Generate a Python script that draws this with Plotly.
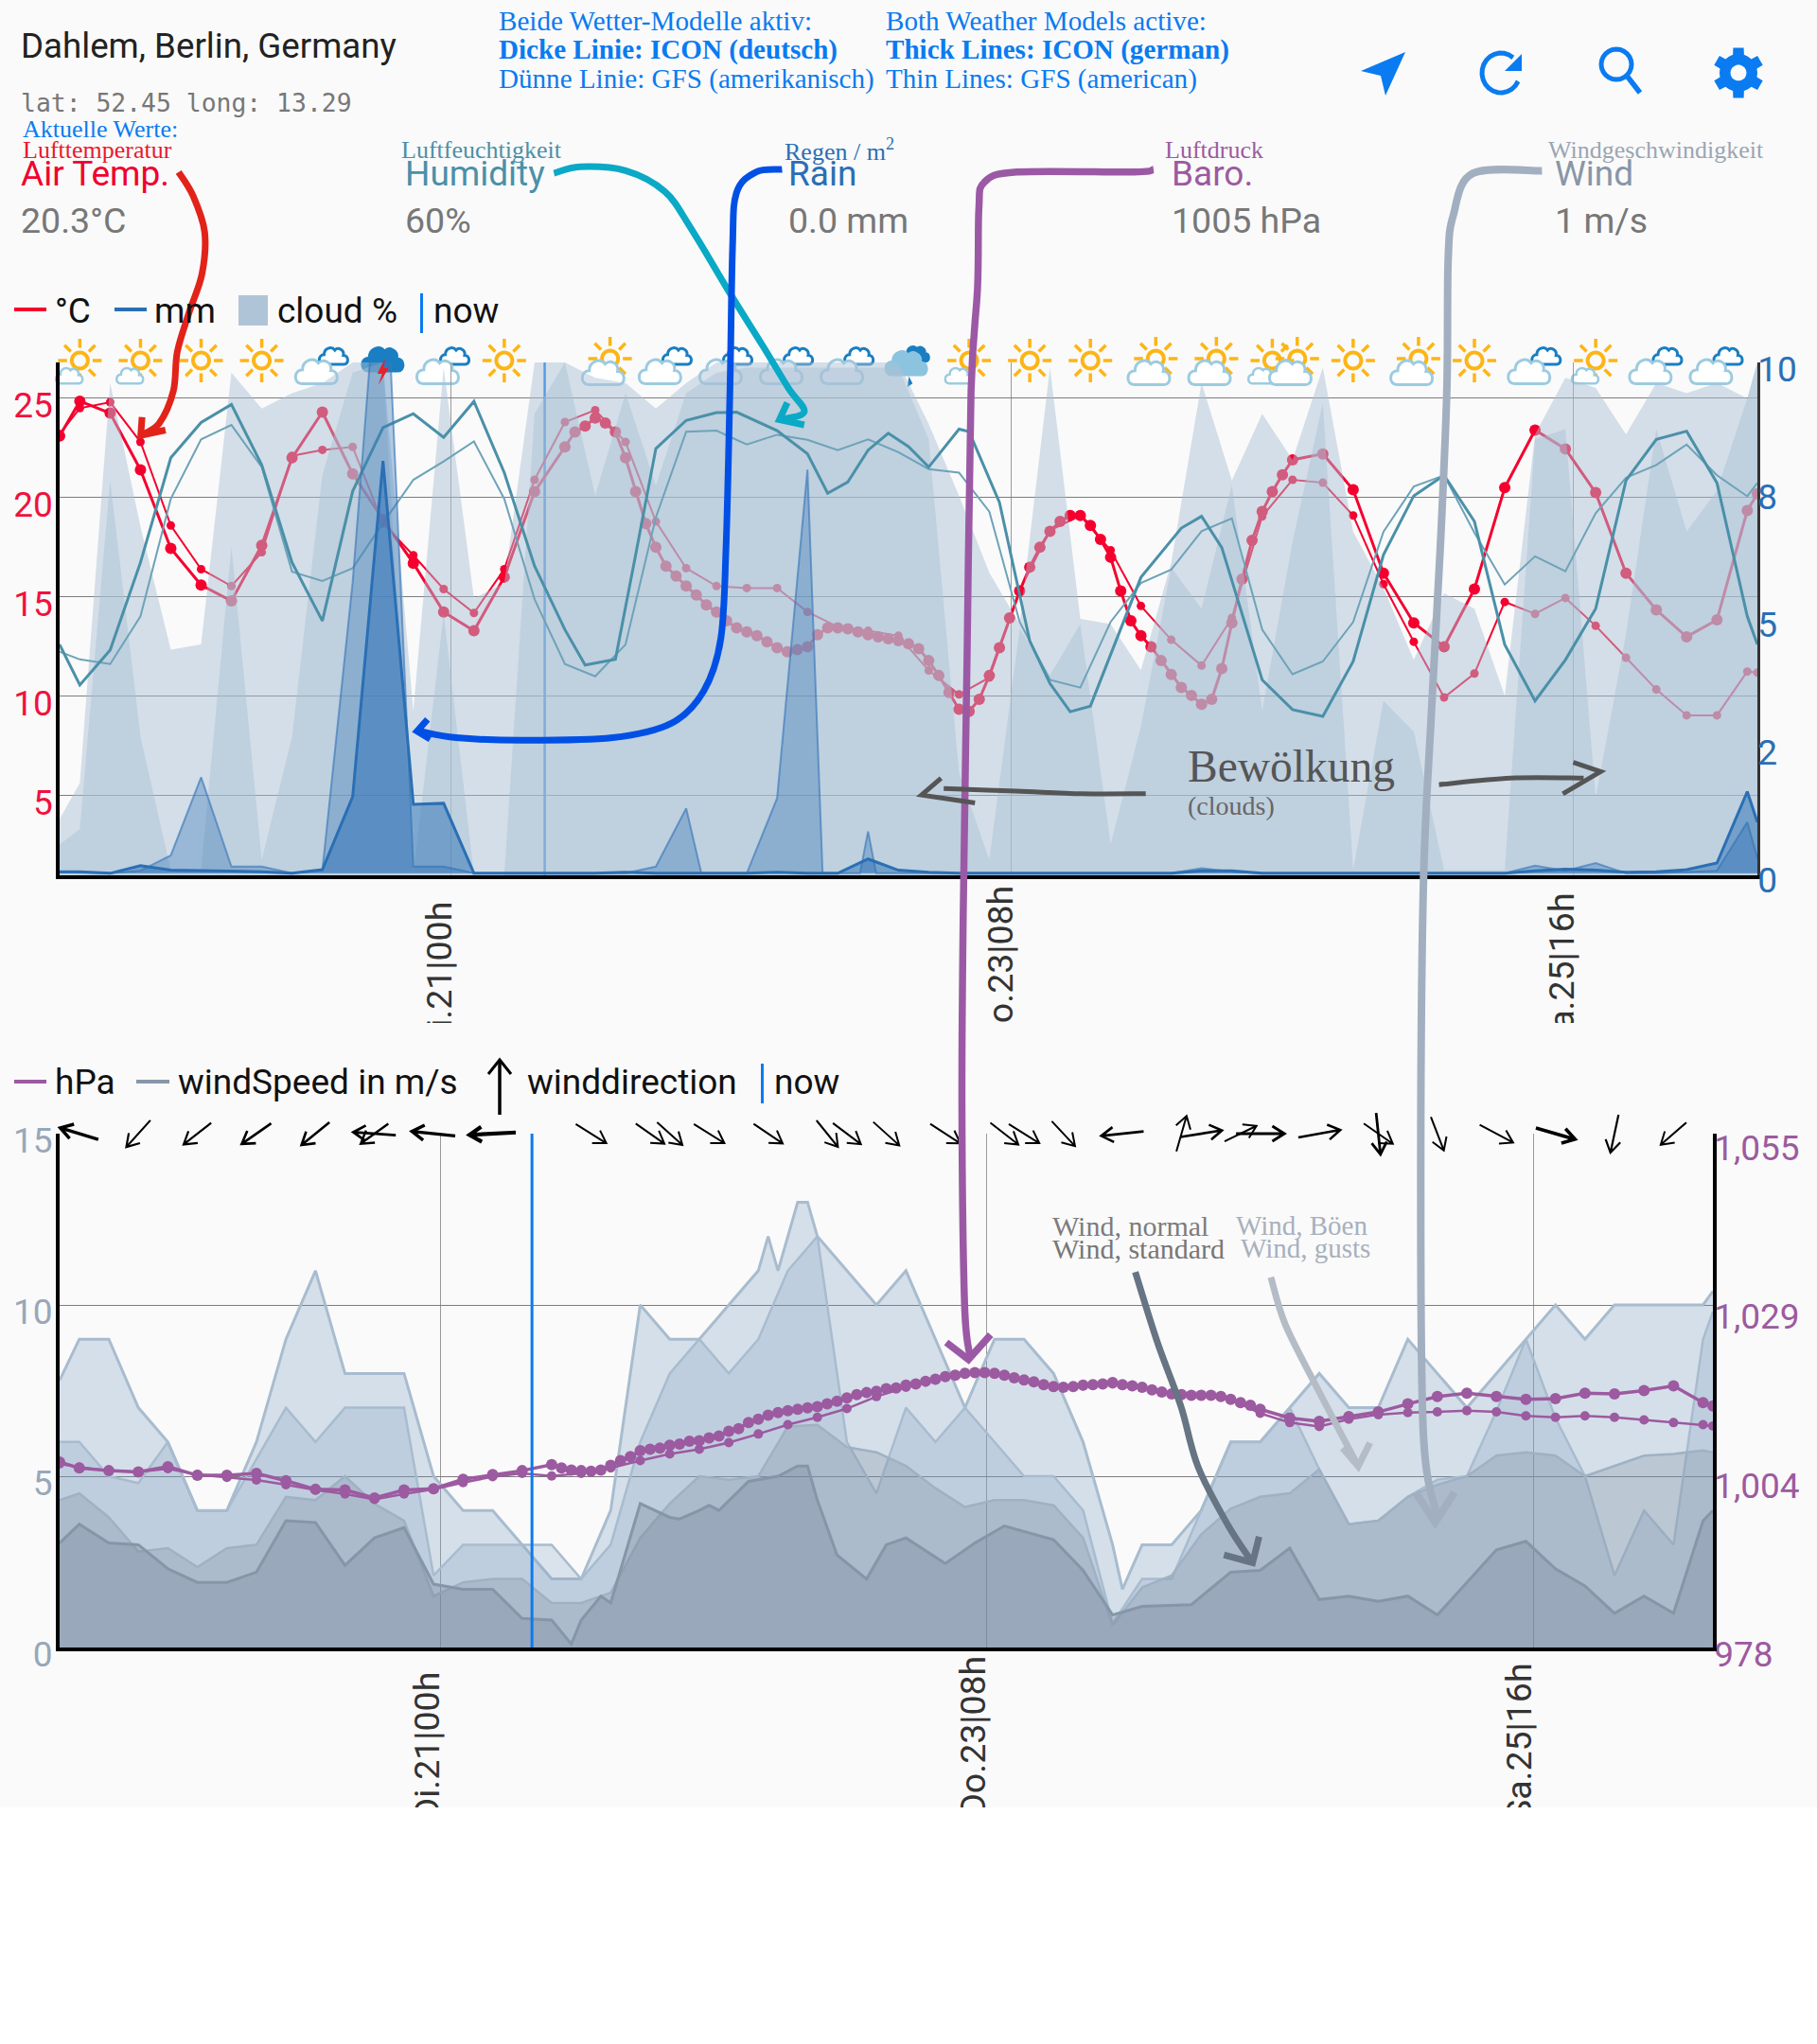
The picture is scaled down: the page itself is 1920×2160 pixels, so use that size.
import math
import plotly.graph_objects as go

W, H = 1920, 2160

# ---------- data ----------
H3 = [0] + list(range(2, 168, 3)) + [168]
H_MIXED = [0] + list(range(2, 51, 3)) + list(range(51, 123)) + list(range(125, 168, 3)) + [168]

TEMP_ICON = [23.1,24.85,24.25,21.4,17.45,15.6,14.8,17.6,22.0,24.3,21.2,18.9,16.7,14.25,13.3,16,20.3,22.55,
 23.3,23.6,24.0,23.75,23.3,22.0,20.3,18.7,17.5,16.55,16.05,15.55,15.1,14.6,14.25,13.8,13.45,13.25,13.05,12.75,12.45,12.25,12.35,12.5,13.1,13.45,13.45,13.4,13.25,13.1,13.0,12.9,12.8,12.65,
 12.4,11.8,11.05,10.2,9.35,9.25,9.85,11.05,12.45,13.95,15.3,16.5,17.5,18.3,18.8,19.1,19.1,18.6,17.9,17.0,15.3,13.8,13.05,12.5,11.8,11.1,10.45,10.05,9.6,9.85,11.4,13.7,15.9,17.85,19.3,20.3,21.15,21.9,
 22.2,20.4,16.2,13.7,12.5,15.4,20.5,23.4,22.45,20.25,16.2,14.35,13.0,13.85,19.35,20.2]
TEMP_GFS = [23.2,24.5,24.8,22.8,18.6,16.4,15.55,17.25,22.1,22.4,22.55,18.7,17.1,15.4,14.2,16.4,20.9,23.8,24.4,22.8,18.8,16.45,15.55,15.45,15.45,14.25,13.5,13.3,13.05,11.3,10.1,10.95,15.35,18.35,19.1,17.35,14.55,12.85,11.55,13.95,19.05,20.9,20.75,19.1,15.65,12.75,9.95,11.15,14.75,14.15,14.95,13.55,11.95,10.35,9.05,9.05,11.25,11.2]

HUM_ICON_H = [0,2,5,8,11,14,17,20,23,26,29,32,35,38,41,44,47,50,52,55,57,59,62,65,67,71,74,76,78,80,82,84,86,89,90,93,96,98,100,102,107,111,113,115,119,122,125,128,131,134,137,140,143,146,149,152,155,158,161,164,167,168]
HUM_ICON = [45,37.1,43.9,61,81.4,88.3,91.8,80,61,49.6,74.9,87.3,90,85.4,92.4,78.5,60.3,47.9,41,42.1,62.5,83.2,88.7,90.2,90.3,86.7,82.2,74.5,76.7,82.9,86.2,83.6,79.6,87,86.5,72.7,45.7,37.4,31.9,33,58.1,67.7,70,63.9,38.1,32.3,31,41.7,62.5,74,78,69,45,34,42,52,77,85,86.6,76.5,50.5,45]
HUM_GFS = [43.6,42.1,41.2,50.5,73.4,85,87.8,79.6,59.2,57.4,59.9,68.7,77.1,80.7,84.6,73.4,53.8,41.2,38.8,45,69.8,86.5,86.7,84,85.9,84.9,82.9,85,82.5,79.2,78.5,70.9,49.4,38.1,36.6,49.4,57,59.6,67.1,69.6,47.9,39.2,41.7,49.4,67,75.8,78,66.8,56.7,62.2,59.3,70.6,77.5,80,84,78,73.9,76.5]

CLOUD_A = [11,18,96,68,44,45,98,91,94,96,100,100,32,99,54,57,100,100,97,96,91,96,100,100,100,100,100,100,100,88,74,59,49,99,50,49,40,61,96,77,90,81,99,67,56,42,55,52,35,86,97,95,86,96,94,96,93,100]
CLOUD_B = [6,9,77,27,1,1,64,3,27,78,98,100,0,51,0,0,90,100,74,94,76,94,98,99,99,99,99,99,99,85,20,3,48,39,49,6,29,60,52,76,32,65,92,1,34,28,1,1,1,85,87,15,47,87,67,75,93,100]

RAIN_ICON = [.03,.03,0,.15,.06,.05,.03,.03,0,.07,1.5,8.07,1.35,1.37,0,0,0,0,0,.02,0,0,0,0,.02,0,0,.28,.06,.02,0,0,0,0,0,0,0,0,.05,.05,0,0,0,0,0,0,0,0,0,.05,.08,.06,.02,.03,.07,.2,1.6,1.0]
RAIN_GFS_H = [0,2,5,8,11,14,17,20,23,26,29,32,35,38,41,44,47,50,53,56,59,62,63.5,68,71,74,75.5,79.2,80,80.8,86,89,92,95,98,101,104,107,110,113,116,119,122,125,128,131,134,137,140,143,146,149,152,155,158,161,164,167,168]
RAIN_GFS = [.02,.01,0,.05,.35,1.88,.13,.13,0,.06,5.7,13.3,.13,.13,0,0,0,0,0,0,.13,1.27,0,0,1.47,7.9,0,0,.82,0,0,0,0,0,0,0,0,0,0,.1,.03,0,0,0,0,0,0,0,0,0,.15,.05,.2,0,0,.02,.05,1.0,.3]

NOW_HOUR = 48
TICK_HOURS = [38.7, 94.2, 149.75]
TICK_LABELS = ["Di.21|00h\u00a0\u2009", "Do.23|08h", "Sa.25|16h\u2009"]

GUST_ICON_H = [0,2,5,8,11,14,17,20,23,26,29,32,35,38,41,44,47,50,53,56,59,62,65,68,71,72,73,75,76,77,80,83,86,89,92,95,98,101,104,107,108,110,113,116,119,122,125,128,131,134,137,140,143,146,149,152,155,158,161,164,167,168]
GUST_ICON = [7.8,9,9,7,6,4,4,6,9,11,8,8,8,5,4,4,3,2,2,4,10,9,9,10,11,12,11,13,13,12,11,10,11,9,7,9,9,8,6,3,1.7,3,3,4,6,6,7,8,7,7,9,8,7,8,9,10,9,10,10,10,10,10.4]
GUST_GFS = [6,6,5,4.8,6,4,4,5.5,7,6,7,7,7,2.1,3,3,3,3,2,3,6,8,9,8,9,11,12,6,4.5,7,6,7,6,5,5,4,.7,2,2,4,6,6,7,5.2,3.6,3.7,4.4,4.9,5,6.9,9,6.7,5,2.1,4,3,9,9.8]
WIND_GFS = [4.3,4.5,3.8,2.8,2.9,2.35,2.9,3,4.4,4.3,5,4.2,3.7,1.5,1.9,2,2,1.3,1.3,1.6,3.2,4.2,5,4.9,5,6.45,6.5,5.85,5.7,5.3,4.65,4.1,4.3,4.3,4.15,3.2,.65,1.75,2.1,3.3,4.05,4.4,4.5,5.2,3.6,3.7,4.4,4.75,5,5.6,5.7,5.6,5,5.3,5.6,5.65,5.75,5.7]
WIND_ICON_H = [0,2,5,8,11,14,17,20,23,26,29,32,35,38,41,44,47,50,52,53,55,56,59,62,63,65,66,67,70,73,75,76,77,79,82,84,86,90,93,96,101,104,107,110,115,119,122,125,128,131,134,137,140,146,149,152,155,158,161,164,167,168]
WIND_ICON = [3.05,3.6,3.05,3,2.3,1.9,1.9,2.2,3.7,3.65,2.4,3.2,3.5,1.85,1.7,1.7,.85,.8,.1,.8,1.5,1.3,4.2,3.8,3.75,4,4.15,4,4.85,5,5.3,5.3,4.3,2.7,2,3,3.2,2.45,3.05,3.55,3.15,2.25,.95,1.2,1.25,2.2,2.25,2.9,1.4,1.5,1.35,1.5,.95,2.85,3.1,2.3,1.8,1,1.5,1,3.7,4]

BARO_ICON = [1005.8,1004.9,1004.5,1004.3,1005.1,1003.8,1003.8,1004.1,1003,1001.7,1001.6,1000.4,1001.6,1001.8,1003.2,1003.9,1004.5,1005.4,
 1004.9,1004.6,1004.5,1004.4,1004.6,1005.3,1006,1006.6,1007.5,1007.7,1007.9,1008.3,1008.5,1008.9,1009,1009.4,1009.7,1010.4,1010.8,1011.7,1012.2,1012.8,1013.2,1013.5,1013.7,1013.9,1014.1,1014.5,1014.9,1015.4,1015.9,1016.2,1016.4,1016.8,1016.9,
 1017.3,1017.5,1017.9,1018.2,1018.6,1018.8,1019.1,1019.2,1019.2,1019.1,1018.8,1018.4,1018.1,1017.8,1017.4,1017.1,1017,1017.1,1017.3,1017.4,1017.5,1017.7,1017.4,1017.2,1017,1016.6,1016.3,1016,1015.9,1015.8,1015.8,1015.8,1015.6,1015.2,1014.7,1014.3,1013.7,
 1012.4,1011.9,1012.6,1013.3,1014.5,1015.6,1016.1,1015.6,1015.2,1015.3,1016.1,1016,1016.5,1017.2,1014.7,1014.2]
BARO_GFS = [1005.5,1005,1004.5,1004.3,1004.8,1003.9,1003.5,1003.1,1002.4,1001.6,1001,1000.2,1001,1001.7,1002.7,1003.6,1004.1,1003.7,1004.1,1004.9,1006,1007,1007.7,1008.7,1010,1011.4,1012.5,1013.8,1015.6,1017,1018.1,1019,1019,1018,1017,1017.2,1017.5,1017,1016,1015.8,1015.2,1013.1,1011.7,1011.1,1012.2,1012.9,1013.2,1013.3,1013.5,1013.3,1012.7,1012.5,1012.7,1012.5,1012.1,1011.7,1011.4,1011.2]
BARO_TICK_POS = [978, 1003.2, 1028.6, 1053.8]
BARO_TICK_TEXT = ["978", "1,004", "1,029", "1,055"]

ARROW_H = [2,8,14,20,26,32,32,38,44,54,60,62,66,72,78,80,84,90,96,98,102,108,114,116,120,122,128,134,134,140,146,152,158,164]
ARROW_DIR = [287,222,232,235,231,234,274,276,267,122,125,132,122,124,141,127,132,123,128,122,137,264,16,81,64,90,80,125,174,159,118,106,192,229]
ARROW_LEN = [42,38,37,38,38,36,45,46,49,38,37,36,38,37,36,37,37,38,37.5,38,36,45,39,44.5,37.5,51,45,37.5,44,38,40,43,41,36]
ARROW_W = [3.5,2.2,2.2,2.6,2.6,2.4,2.8,3.4,4.2,2,2,2,2,2,2,2,2,2,2,2,2,2.6,2,2.6,2,3,2.6,2,2.8,2,2,3.6,2.2,2]

ICON_H = [2,8,14,20,26,32,38,44,54,60,66,72,78,84,90,96,102,108,114,120,122,128,134,140,146,152,158,164]
ICON_KIND = ["sc","sc","s","s","cc","storm","cc","s","cs","cc","cc","cc","cc","rain","sc","s","s","cs","cs","sc","cs","s","cs","s","cc","sc","cc","cc"]

# ---------- layout helpers ----------
X1L, X1R, Y1T, Y1B = 63, 1857, 383, 925
X2L, X2R, Y2T, Y2B = 63, 1810, 1198, 1741
XMAX = 168
DS = 1920 / 1394.0   # the reference's hand-drawn notes were measured at this ratio

BG = "#fafafa"
BLUE = "#0a7bf0"
RED = "#f5002e"
HUMC = "#4a90a8"
RAINC = "#2a6fb5"
BAROC = "#9c5aa0"
WINDC = "#8896a8"
CLOUDFILL = "rgba(169,192,213,0.48)"
WINDFILL1 = "rgba(115,150,190,0.27)"
WINDFILL2 = "rgba(132,164,196,0.27)"
WINDFILL3 = "rgba(121,137,156,0.27)"
WINDFILL4 = "rgba(102,118,138,0.27)"


def pt(x, y):
    return f"{x / W:.5f},{1 - y / H:.5f}"


def poly(points, close=False):
    s = "M" + " L".join(pt(x, y) for x, y in points)
    return s + (" Z" if close else "")


def spline(points):
    p = points
    s = "M" + pt(*p[0])
    for i in range(len(p) - 1):
        p0 = p[max(i - 1, 0)]
        p1 = p[i]
        p2 = p[i + 1]
        p3 = p[min(i + 2, len(p) - 1)]
        c1 = (p1[0] + (p2[0] - p0[0]) / 6, p1[1] + (p2[1] - p0[1]) / 6)
        c2 = (p2[0] - (p3[0] - p1[0]) / 6, p2[1] - (p3[1] - p1[1]) / 6)
        s += " C" + pt(*c1) + " " + pt(*c2) + " " + pt(*p2)
    return s


shapes, annos = [], []


def path(d, color=None, width=2, fill=None, layer="above"):
    shapes.append(dict(type="path", path=d, xref="paper", yref="paper", layer=layer,
                       line=dict(color=color or "rgba(0,0,0,0)", width=width if color else 0),
                       fillcolor=fill or "rgba(0,0,0,0)"))


def rect(x0, y0, x1, y1, fill, layer="above"):
    shapes.append(dict(type="rect", xref="paper", yref="paper", layer=layer,
                       x0=x0 / W, x1=x1 / W, y0=1 - y0 / H, y1=1 - y1 / H,
                       fillcolor=fill, line=dict(width=0)))


def txt(x, y, text, size, color, family="Roboto", anchor="left"):
    annos.append(dict(xref="paper", yref="paper", x=x / W, y=1 - y / H, text=text, showarrow=False,
                      xanchor=anchor, yanchor="middle", align="left", borderpad=0,
                      font=dict(family=family, size=size, color=color)))


def cloud_path(cx, cy, w):
    P = lambda a, b: pt(cx + a * w, cy + b * w)
    return ("M" + P(-.36, .40) +
            " C" + P(-.56, .40) + " " + P(-.56, .06) + " " + P(-.34, .06) +
            " C" + P(-.34, -.16) + " " + P(-.08, -.26) + " " + P(.04, -.10) +
            " C" + P(.14, -.22) + " " + P(.38, -.12) + " " + P(.34, .08) +
            " C" + P(.54, .08) + " " + P(.54, .40) + " " + P(.36, .40) + " Z")


def sun(cx, cy):
    c = "#fdb515"
    pts = [(cx + 8.5 * math.cos(a * math.pi / 18), cy + 8.5 * math.sin(a * math.pi / 18)) for a in range(36)]
    path(poly(pts, True), c, 4, layer="below")
    for k in range(8):
        a = k * math.pi / 4
        path(poly([(cx + 13.5 * math.cos(a), cy + 13.5 * math.sin(a)),
                   (cx + 23 * math.cos(a), cy + 23 * math.sin(a))]), c, 3.5, layer="below")


def weather_icon(kind, h):
    cx = X1L + (X1R - X1L) * h / XMAX
    cy = 381
    PALE = "#9ccbe0"
    DARK = "#1a7ec2"
    if kind == "s":
        sun(cx, cy)
    elif kind == "sc":
        sun(cx, cy)
        path(cloud_path(cx - 11, cy + 13, 28), PALE, 2.5, "#ffffff", "below")
    elif kind == "cs":
        sun(cx + 5, cy - 2)
        path(cloud_path(cx - 2, cy + 8, 44), PALE, 3, "#ffffff", "below")
    elif kind == "cc":
        path(cloud_path(cx + 12, cy - 8, 30), DARK, 3, "#ffffff", "below")
        path(cloud_path(cx - 6, cy + 7, 44), PALE, 3, "#ffffff", "below")
    elif kind == "storm":
        path(cloud_path(cx, cy - 6, 44), DARK, 2, DARK, "below")
        path(poly([(cx + 2, cy - 2), (cx - 6, cy + 14), (cx - 1, cy + 14), (cx - 5, cy + 26),
                   (cx + 6, cy + 8), (cx + 1, cy + 8)], True), None, 0, "#e8212b", "above")
    elif kind == "rain":
        path(cloud_path(cx + 8, cy - 10, 28), DARK, 2, DARK, "below")
        path(cloud_path(cx - 2, cy - 2, 44), "#8cc4e0", 2, "#8cc4e0", "below")
        path(poly([(cx + 1, cy + 20), (cx + 3, cy + 24), (cx, cy + 26)], True), DARK, 2, DARK, "below")


def wind_arrow(h, deg, length, width):
    cx = X2L + (X2R - X2L) * h / XMAX
    cy = Y2T
    a = math.radians(deg)
    ux, uy = math.sin(a), -math.cos(a)
    tail = (cx - ux * length / 2, cy - uy * length / 2)
    head = (cx + ux * length / 2, cy + uy * length / 2)
    d = []
    for sgn in (1, -1):
        b = a + math.pi + sgn * math.radians(32)
        d.append((head[0] + 15 * math.sin(b), head[1] - 15 * math.cos(b)))
    path(poly([tail, head]) + " " + poly([d[0], head, d[1]]), "#000000", width)


def hand(points, head, color, width):
    pts = [(x * DS, y * DS) for x, y in points]
    path(spline(pts), color, width)
    path(poly([(x * DS, y * DS) for x, y in head]), color, width)


# ---------- paper background ----------
rect(0, 0, W, 1910, BG, "below")

# ---------- figure ----------
fig = go.Figure()


def line(x, y, color, width, yaxis, xaxis="x", marker=0, name=""):
    fig.add_trace(go.Scatter(x=x, y=y, xaxis=xaxis, yaxis=yaxis, name=name, hoverinfo="skip",
                             mode="lines+markers" if marker else "lines", cliponaxis=True,
                             line=dict(color=color, width=width),
                             marker=dict(color=color, size=marker, line=dict(width=0))))


def area(x, y, fill, yaxis, xaxis="x", edge=None, width=0, name=""):
    fig.add_trace(go.Scatter(x=x, y=y, xaxis=xaxis, yaxis=yaxis, name=name, hoverinfo="skip", mode="lines",
                             fill="tozeroy", fillcolor=fill,
                             line=dict(color=edge or "rgba(0,0,0,0)", width=width)))


assert len(H_MIXED) == len(TEMP_ICON) == len(BARO_ICON)
assert len(H3) == len(TEMP_GFS) == len(HUM_GFS) == len(CLOUD_A) == len(CLOUD_B) == len(RAIN_ICON) == len(GUST_GFS) == len(WIND_GFS) == len(BARO_GFS)
assert len(RAIN_GFS_H) == len(RAIN_GFS)
assert len(HUM_ICON_H) == len(HUM_ICON)
assert len(GUST_ICON_H) == len(GUST_ICON)
assert len(WIND_ICON_H) == len(WIND_ICON)

# top chart: temperature lies beneath the clouds, humidity and rain above them
line([NOW_HOUR, NOW_HOUR], [1, 26.8], BLUE, 2.5, "y", name="now")
line(H3, TEMP_GFS, RED, 2, "y", marker=9, name="°C GFS")
line(H_MIXED, TEMP_ICON, RED, 3, "y", marker=12, name="°C ICON")
area(H3, CLOUD_A, CLOUDFILL, "y2", name="cloud ICON")
area(H3, CLOUD_B, CLOUDFILL, "y2", name="cloud GFS")
line(H3, HUM_GFS, "#6da3b8", 2, "y2", name="humidity GFS")
line(HUM_ICON_H, HUM_ICON, HUMC, 3, "y2", name="humidity ICON")
area(RAIN_GFS_H, RAIN_GFS, "rgba(58,120,185,0.38)", "y3", edge="rgba(58,120,185,0.65)", width=2, name="mm GFS")
area(H3, RAIN_ICON, "rgba(42,111,181,0.5)", "y3", edge=RAINC, width=3, name="mm ICON")

# bottom chart
area(GUST_ICON_H, GUST_ICON, WINDFILL1, "y4", "x2", "#a8bccf", 3, "gust ICON")
area(H3, GUST_GFS, WINDFILL2, "y4", "x2", "#a8bccf", 2.5, "gust GFS")
area(H3, WIND_GFS, WINDFILL3, "y4", "x2", "#9fb1c4", 2.5, "wind GFS")
area(WIND_ICON_H, WIND_ICON, WINDFILL4, "y4", "x2", "#8596a8", 3, "wind ICON")
line(H3, BARO_GFS, BAROC, 2.5, "y5", "x2", marker=10, name="hPa GFS")
line(H_MIXED, BARO_ICON, BAROC, 3.5, "y5", "x2", marker=12, name="hPa ICON")
line([NOW_HOUR, NOW_HOUR], [978, 1055], BLUE, 3, "y5", "x2", name="now")

TICKFONT = dict(family="Roboto", size=37)
GRID = "#7c7c7c"

# ---------- covers that cut off the x tick labels ----------
rect(0, 1081, W, 1122, BG)
rect(0, 1910, W, H, "#ffffff")

# ---------- weather icons ----------
for h_, k_ in zip(ICON_H, ICON_KIND):
    weather_icon(k_, h_)

# ---------- wind direction arrows ----------
for h_, d_, l_, w_ in zip(ARROW_H, ARROW_DIR, ARROW_LEN, ARROW_W):
    wind_arrow(h_, d_, l_, w_)

# ---------- legend rows ----------
LEG = dict(size=37, color="#111111")
rect(15, 325, 49, 329, RED)
txt(57, 328, "°C", **LEG)
rect(121, 325, 155, 329, RAINC)
txt(162, 328, "mm", **LEG)
rect(252, 312, 283, 344, "#b0c4d8")
txt(292, 328, "cloud %", **LEG)
rect(444, 310, 447, 352, BLUE)
txt(457, 328, "now", **LEG)
rect(15, 1141, 49, 1145, BAROC)
txt(57, 1143, "hPa", **LEG)
rect(144, 1141, 179, 1145, WINDC)
txt(187, 1143, "windSpeed in m/s", **LEG)
path(poly([(528, 1178), (528, 1120)]), "#000000", 3.5)
path(poly([(516, 1135), (528, 1120), (540, 1135)]), "#000000", 3)
txt(556, 1143, "winddirection", **LEG)
rect(804, 1124, 807, 1166, BLUE)
txt(817, 1143, "now", **LEG)

# ---------- header ----------
SER = "Liberation Serif"
txt(21, 48, "Dahlem, Berlin, Germany", 36.7, "#222222")
txt(21, 108, "lat: 52.45 long: 13.29", 26.4, "#777777", "DejaVu Sans Mono")
txt(23, 137, "Aktuelle Werte:", 26, BLUE, SER)
txt(23, 158, "Lufttemperatur", 26, "#e8192c", SER)
for x_, x2_, de, en, val, col in [
    (21, 21, None, "Air Temp.", "20.3°C", "#f0002e"),
    (423, 427, "Luftfeuchtigkeit", "Humidity", "60%", HUMC),
    (828, 832, "Regen / m<sup>2</sup>", "Rain", "0.0 mm", RAINC),
    (1230, 1237, "Luftdruck", "Baro.", "1005 hPa", BAROC),
    (1635, 1642, "Windgeschwindigkeit", "Wind", "1 m/s", WINDC),
]:
    if de:
        txt(x_, 158, de, 26, col if en != "Wind" else "#9aa5b3", SER)
    txt(x2_, 183, en, 37, col)
    txt(x2_, 233, val, 37.5, "#777777")
for x_, rows in [(526, ["Beide Wetter-Modelle aktiv:", "<b>Dicke Linie: ICON (deutsch)</b>", "Dünne Linie: GFS (amerikanisch)"]),
                 (935, ["Both Weather Models active:", "<b>Thick Lines: ICON (german)</b>", "Thin Lines: GFS (american)"])]:
    for y_, r_ in zip([22, 53, 84], rows):
        txt(x_, y_, r_, 29.1, BLUE, SER)

# ---------- toolbar icons ----------
path(poly([(1485, 55), (1438, 75), (1459, 80), (1464, 101)], True), None, 0, BLUE)
arc = [(1586 + 20 * math.cos(math.radians(a)), 77 + 21 * math.sin(math.radians(a))) for a in range(-50, -345, -15)]
path(poly(arc), BLUE, 5)
path(poly([(1608, 57), (1608, 75), (1590, 75)], True), None, 0, BLUE)
ring = [(1708 + 16 * math.cos(math.radians(a)), 68 + 16 * math.sin(math.radians(a))) for a in range(0, 360, 15)]
path(poly(ring, True), BLUE, 5)
path(poly([(1719, 80), (1733, 98)]), BLUE, 5.5)
gear = []
for k in range(6):
    base = k * 60 - 90
    for off, r in [(-30, 20), (-17, 20), (-12, 27), (12, 27), (17, 20)]:
        gear.append((1837 + r * math.cos(math.radians(base + off)), 77 + r * math.sin(math.radians(base + off))))
path(poly(gear, True), None, 0, BLUE)
hole = [(1837 + 8.5 * math.cos(math.radians(a)), 77 + 8.5 * math.sin(math.radians(a))) for a in range(0, 360, 20)]
path(poly(hole, True), None, 0, BG)

# ---------- notes inside the charts ----------
txt(1254, 810, "Bewölkung", 47.5, "#555555", SER)
txt(1254, 851, "(clouds)", 28, "#666666", SER)
txt(1111, 1295, "Wind, normal", 30, "#7c7c7c", SER)
txt(1111, 1319, "Wind, standard", 30, "#777777", SER)
txt(1305, 1295, "Wind, Böen", 29, "#a8b0bc", SER)
txt(1310, 1319, "Wind, gusts", 29, "#a8b0bc", SER)

# ---------- hand-drawn arrows ----------
hand([(137, 132), (148, 150), (157, 178), (155, 210), (145, 240), (136, 270), (133, 300), (122, 325), (108, 334)],
     [(109, 320), (108, 334), (127, 330)], "#e2231a", 7)
hand([(425, 133), (445, 128), (480, 131), (510, 147), (530, 175), (560, 225), (585, 265), (605, 298), (617, 316), (598, 322)],
     [(604, 309), (598, 322), (617, 326)], "#0aa9c6", 7)
hand([(600, 130), (580, 132), (565, 148), (562, 190), (560, 300), (557, 420), (553, 490), (540, 530), (515, 555), (470, 566), (400, 568), (350, 566), (322, 561)],
     [(328, 552), (320, 561), (330, 567)], "#0050e6", 7)
hand([(885, 130), (870, 132), (780, 132), (755, 140), (751, 160), (750, 220), (745, 300), (742, 500), (739, 700), (738, 850), (740, 1000), (744, 1040)],
     [(726, 1030), (743, 1043), (760, 1024)], "#9b59a5", 7.5)
hand([(1183, 131), (1130, 133), (1115, 165), (1111, 200), (1110, 300), (1105, 420), (1098, 550), (1092, 680), (1090, 900), (1092, 1100), (1103, 1165)],
     [(1086, 1145), (1101, 1168), (1116, 1145)], "#a2afc0", 8)
hand([(879, 609), (830, 609), (780, 607), (724, 605)], [(722, 597), (707, 610), (748, 616)], "#555555", 5)
hand([(1104, 602), (1159, 597), (1215, 597)], [(1207, 585), (1228, 592), (1199, 609)], "#555555", 5)
hand([(871, 976), (888, 1030), (906, 1079), (919, 1125), (942, 1170), (961, 1199)],
     [(966, 1179), (961, 1199), (939, 1193)], "#667483", 7)
hand([(975, 980), (986, 1016), (1009, 1062), (1042, 1125)], [(1051, 1107), (1042, 1125), (1030, 1111)], "#b4bcc6", 7)

# ---------- layout ----------
fig.update_layout(
    width=W, height=H, margin=dict(l=0, r=0, t=0, b=0), autosize=False, showlegend=False,
    paper_bgcolor="#ffffff", plot_bgcolor="rgba(0,0,0,0)", shapes=shapes, annotations=annos,
    xaxis=dict(domain=[X1L / W, X1R / W], range=[0, XMAX], anchor="y", tickmode="array", tickvals=TICK_HOURS, ticktext=TICK_LABELS,
               tickangle=-90, tickfont=dict(family="Roboto", size=37.5, color="#333333"), ticklen=0, showgrid=True, gridcolor="#9a9a9a",
               gridwidth=1.2, showline=True, linecolor="#000000", linewidth=3.5, zeroline=False, ticklabelstandoff=-8, ticklabelshift=-11,
               layer="below traces", automargin=False),
    yaxis=dict(domain=[1 - Y1B / H, 1 - Y1T / H], range=[1, 26.8], tickmode="array", tickvals=[5, 10, 15, 20, 25], anchor="x", side="left",
               tickfont=dict(TICKFONT, color="#f0123c"), ticklen=0, showgrid=True, gridcolor=GRID, gridwidth=1.3,
               showline=True, linecolor="#000000", linewidth=3.5, zeroline=False, ticklabelshift=7, ticklabelstandoff=-4, automargin=False),
    yaxis2=dict(domain=[1 - Y1B / H, 1 - Y1T / H], range=[0, 100], overlaying="y", anchor="x", side="right", visible=False, automargin=False),
    yaxis3=dict(domain=[1 - Y1B / H, 1 - Y1T / H], range=[-0.04, 10], overlaying="y", anchor="x", side="right", tickmode="array",
                tickvals=[0, 2.5, 5, 7.5, 10], ticktext=["0", "2", "5", "8", "10"], tickfont=dict(TICKFONT, color=RAINC), ticklen=0,
                showgrid=False, zeroline=False, showline=True, linecolor="#333333", linewidth=2.5, layer="below traces", ticklabelshift=7,
                ticklabelstandoff=-10, automargin=False),
    xaxis2=dict(domain=[X2L / W, X2R / W], range=[0, XMAX], anchor="y4", tickmode="array", tickvals=TICK_HOURS, ticktext=TICK_LABELS,
                tickangle=-90, tickfont=dict(family="Roboto", size=37.5, color="#333333"), ticklen=0, showgrid=True, gridcolor="#9a9a9a",
                gridwidth=1.2, showline=True, linecolor="#000000", linewidth=3.5, zeroline=False, ticklabelstandoff=-10, ticklabelshift=-14,
                automargin=False),
    yaxis4=dict(domain=[1 - Y2B / H, 1 - Y2T / H], range=[0, 15], tickmode="array", tickvals=[0, 5, 10, 15], anchor="x2", side="left",
                tickfont=dict(TICKFONT, color="#98a7b8"), ticklen=0, showgrid=True, gridcolor=GRID, gridwidth=1.3,
                showline=True, linecolor="#000000", linewidth=4, zeroline=False, ticklabelshift=7, ticklabelstandoff=-4, automargin=False),
    yaxis5=dict(domain=[1 - Y2B / H, 1 - Y2T / H], range=[978, 1055], overlaying="y4", anchor="x2", side="right", tickmode="array",
                tickvals=BARO_TICK_POS, ticktext=BARO_TICK_TEXT, tickfont=dict(TICKFONT, color=BAROC), ticklen=0, showgrid=False,
                zeroline=False, showline=True, linecolor="#000000", linewidth=3.5, layer="below traces", ticklabelshift=7,
                ticklabelstandoff=-10, automargin=False),
)

fig.write_html("out.html", config=dict(displayModeBar=False), post_script="document.body.style.margin='0';")
